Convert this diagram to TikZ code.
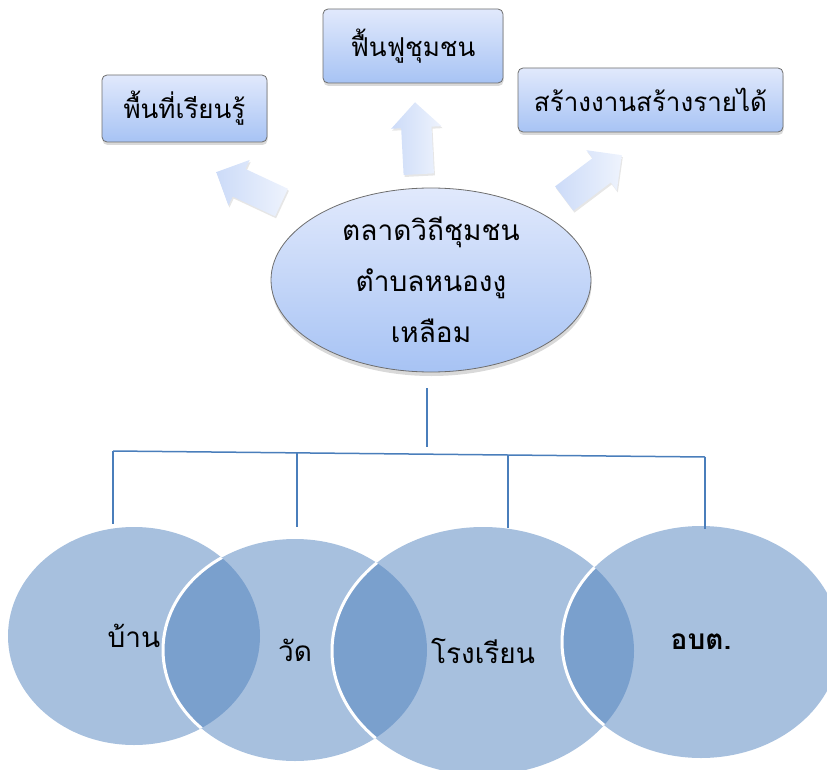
\documentclass[tikz,border=0pt]{standalone}
\usepackage{fontspec}
\newfontfamily\thaifont[Script=Thai]{Loma}
\usetikzlibrary{shapes.geometric,shapes.arrows,shadows}
\definecolor{boxtop}{HTML}{E1E9FC}
\definecolor{boxbot}{HTML}{A7C3F4}
\definecolor{arrtip}{HTML}{EEF3FD}
\definecolor{arrtail}{HTML}{CCDBF8}
\definecolor{conn}{HTML}{4A7EBB}
\definecolor{venn}{HTML}{4F81BD}
\definecolor{bordergray}{HTML}{6E6E6E}
\begin{document}
\begin{tikzpicture}[x=1pt,y=-1pt,
  topbox/.style={draw=bordergray, line width=0.8pt, rounded corners=5pt,
    top color=boxtop, bottom color=boxbot,
    drop shadow={shadow xshift=0.5pt, shadow yshift=-3pt, opacity=0.3},
    inner sep=0pt, font=\thaifont\fontsize{26}{30}\selectfont},
  hubell/.style={ellipse, draw=bordergray, line width=0.8pt,
    top color=boxtop, bottom color=boxbot,
    drop shadow={shadow xshift=0.5pt, shadow yshift=-4pt, opacity=0.3},
    align=center, inner sep=0pt, font=\thaifont\fontsize{28}{51}\selectfont},
  blockarrow/.style={single arrow, single arrow head extend=10pt,
    single arrow tip angle=90, minimum height=72pt, minimum width=50pt,
    inner xsep=0pt, inner ysep=15pt, left color=arrtail, right color=arrtip,
    anchor=tip, drop shadow={opacity=0.2, shadow xshift=1pt, shadow yshift=-2pt}},
  vennfill/.style={ellipse, fill=venn, fill opacity=0.5, text opacity=1,
    inner sep=0pt, font=\thaifont\fontsize{28}{30}\selectfont},
  vennline/.style={draw=white, line width=3pt},
  connline/.style={draw=conn, line width=1.5pt}
]
\useasboundingbox (0,0) rectangle (827,770);
\clip (0,0) rectangle (827,770);

% top boxes
\node[topbox, minimum width=165pt, minimum height=67pt] (learn) at (184.5,108.5) {พื้นที่เรียนรู้};
\node[topbox, minimum width=180pt, minimum height=74pt] (revive) at (413,46) {ฟื้นฟูชุมชน};
\node[topbox, minimum width=265pt, minimum height=64pt] (jobs) at (650.5,100) {สร้างงานสร้างรายได้};

% block arrows
\node[blockarrow, rotate=155] (arrL) at (216,172) {};
\node[blockarrow, rotate=93] (arrU) at (415,102) {};
\node[blockarrow, rotate=37] (arrR) at (622,155) {};

% hub
\node[hubell, minimum width=320pt, minimum height=184pt] (hub) at (431,280)
  {ตลาดวิถีชุมชน\\ตำบลหนองงู\\เหลือม};

% connectors
\coordinate (vtop) at (427,388);
\coordinate (vbot) at (427,447);
\coordinate (barL) at (113,451);
\coordinate (barR) at (705,457);
\coordinate (d2t) at (297,453);
\coordinate (d3t) at (508,455);
\coordinate (d1b) at (113,524);
\coordinate (d2b) at (297,527);
\coordinate (d3b) at (508,528);
\coordinate (d4b) at (705,529);
\draw[connline] (vtop) -- (vbot);
\draw[connline] (barL) -- (barR);
\draw[connline] (barL) -- (d1b);
\draw[connline] (d2t) -- (d2b);
\draw[connline] (d3t) -- (d3b);
\draw[connline] (barR) -- (d4b);

% venn ellipses
\node[vennfill, minimum width=252pt, minimum height=218pt] (ban) at (134,636) {บ้าน};
\node[vennfill, minimum width=264pt, minimum height=222pt] (wat) at (295,650) {วัด};
\node[vennfill, minimum width=302pt, minimum height=248pt] (school) at (483,651) {โรงเรียน};
\node[vennfill, minimum width=278pt, minimum height=232pt] (obt) at (701,642) {\bfseries อบต.};

\begin{scope}
  \clip (ban.center) ellipse [x radius=126, y radius=109];
  \draw[vennline] (wat.center) ellipse [x radius=132, y radius=111];
\end{scope}
\begin{scope}
  \clip (wat.center) ellipse [x radius=132, y radius=111];
  \draw[vennline] (school.center) ellipse [x radius=151, y radius=124];
\end{scope}
\begin{scope}
  \clip (school.center) ellipse [x radius=151, y radius=124];
  \draw[vennline] (obt.center) ellipse [x radius=139, y radius=116];
\end{scope}
\end{tikzpicture}
\end{document}
